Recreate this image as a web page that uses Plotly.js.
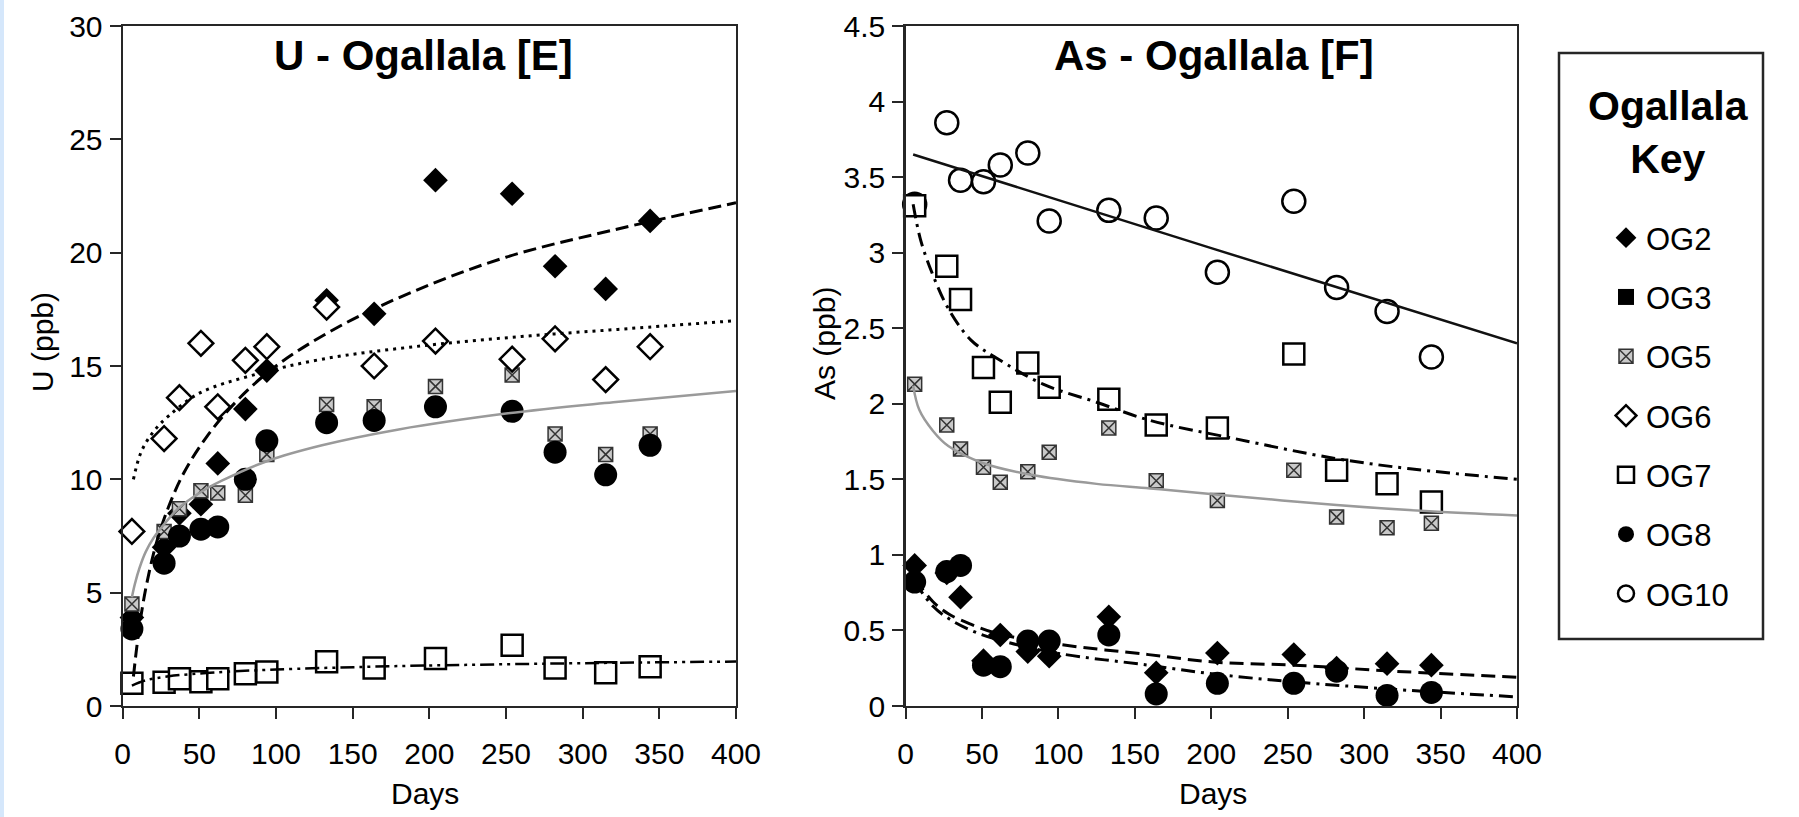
<!DOCTYPE html>
<html>
<head>
<meta charset="utf-8">
<script src="https://cdn.plot.ly/plotly-3.0.1.min.js"></script>
<style>
  html, body { margin: 0; padding: 0; background: #ffffff; }
  #chart { width: 1799px; height: 817px; }
  #strip { position: absolute; left: 0; top: 0; width: 4px; height: 817px; background: #d5e7fb; z-index: 10; }
</style>
</head>
<body>
<div id="strip"></div>
<div id="chart"></div>
<script>
// ---------------- DATA ----------------
// Panel E : U (ppb) vs Days
const daysU = [6, 27, 37, 51, 62, 80, 94, 133, 164, 204, 254, 282, 315, 344];
const u_OG2 = [3.9, 7.0, 8.5, 8.9, 10.7, 13.1, 14.8, 17.9, 17.3, 23.2, 22.6, 19.4, 18.4, 21.4];
const u_OG3 = [null, null, null, null, null, null, null, null, null, null, null, null, null, null]; // key only, no points drawn
const u_OG5 = [4.5, 7.7, 8.7, 9.5, 9.4, 9.3, 11.1, 13.3, 13.2, 14.1, 14.6, 12.0, 11.1, 12.0];
const u_OG6 = [7.7, 11.8, 13.6, 16.0, 13.2, 15.25, 15.85, 17.6, 15.0, 16.1, 15.3, 16.2, 14.4, 15.85];
const u_OG7 = [1.0, 1.05, 1.2, 1.07, 1.2, 1.42, 1.5, 1.95, 1.68, 2.1, 2.68, 1.68, 1.47, 1.73];
const u_OG8 = [3.4, 6.3, 7.5, 7.8, 7.9, 10.0, 11.7, 12.5, 12.6, 13.2, 13.0, 11.2, 10.2, 11.5];

// trend lines, panel E
const fitU_OG2_days = [7, 9, 12, 16, 22, 30, 40, 55, 75, 100, 140, 190, 250, 320, 400];
const fitU_OG2_vals = [1.3, 2.5, 4.0, 5.5, 7.2, 8.8, 10.3, 11.9, 13.5, 15.0, 16.7, 18.3, 19.8, 21.0, 22.2];
const fitU_OG6_days = [7, 12, 20, 30, 50, 85, 130, 190, 260, 330, 400];
const fitU_OG6_vals = [10.0, 11.2, 12.1, 12.8, 13.8, 14.6, 15.3, 15.85, 16.3, 16.65, 17.0];
const fitU_OG5_days = [6, 8, 11, 15, 20, 28, 36, 50, 65, 94, 130, 180, 250, 320, 400];
const fitU_OG5_vals = [4.8, 5.4, 6.1, 6.8, 7.4, 8.1, 8.7, 9.4, 9.95, 10.8, 11.5, 12.2, 12.9, 13.4, 13.9];
const fitU_OG7_days = [6, 15, 30, 60, 100, 160, 220, 300, 400];
const fitU_OG7_vals = [0.9, 1.13, 1.31, 1.48, 1.61, 1.73, 1.81, 1.89, 1.96];

// Panel F : As (ppb) vs Days
const daysAs = [6, 27, 36, 51, 62, 80, 94, 133, 164, 204, 254, 282, 315, 344];
const as_OG2  = [0.93, 0.88, 0.72, 0.30, 0.47, 0.36, 0.33, 0.59, 0.22, 0.35, 0.34, 0.25, 0.28, 0.27];
const as_OG5  = [2.13, 1.86, 1.70, 1.58, 1.48, 1.55, 1.68, 1.84, 1.49, 1.36, 1.56, 1.25, 1.18, 1.21];
const as_OG7  = [3.31, 2.91, 2.69, 2.24, 2.01, 2.27, 2.11, 2.03, 1.86, 1.84, 2.33, 1.56, 1.47, 1.35];
const as_OG8  = [0.82, 0.89, 0.93, 0.27, 0.26, 0.43, 0.43, 0.47, 0.08, 0.15, 0.15, 0.23, 0.07, 0.09];
const as_OG10 = [3.32, 3.86, 3.48, 3.47, 3.58, 3.66, 3.21, 3.28, 3.23, 2.87, 3.34, 2.77, 2.61, 2.31];

// trend lines, panel F
const fitAs_OG10_days = [5, 200, 400];
const fitAs_OG10_vals = [3.65, 3.03, 2.40];
const fitAs_OG7_days = [5, 10, 18, 28, 43, 60, 90, 125, 160, 215, 280, 330, 400];
const fitAs_OG7_vals = [3.32, 3.08, 2.85, 2.63, 2.42, 2.30, 2.13, 2.01, 1.89, 1.77, 1.64, 1.57, 1.50];
const fitAs_OG5_days = [5, 9, 18, 28, 50, 82, 125, 160, 203, 282, 340, 400];
const fitAs_OG5_vals = [2.12, 1.96, 1.82, 1.72, 1.61, 1.53, 1.47, 1.44, 1.40, 1.33, 1.29, 1.26];
const fitAs_OG2_days = [6, 18, 28, 43, 60, 99, 159, 203, 254, 320, 400];
const fitAs_OG2_vals = [0.84, 0.69, 0.61, 0.54, 0.48, 0.41, 0.34, 0.29, 0.27, 0.23, 0.19];
const fitAs_OG8_days = [6, 18, 28, 43, 60, 99, 159, 203, 254, 320, 400];
const fitAs_OG8_vals = [0.82, 0.66, 0.58, 0.50, 0.44, 0.35, 0.27, 0.21, 0.16, 0.11, 0.06];

// text
const titleE = 'U - Ogallala [E]';
const titleF = 'As - Ogallala [F]';
const yTitleE = 'U (ppb)';
const yTitleF = 'As (ppb)';
const xTitle = 'Days';
const keyTitle = 'Ogallala<br>Key';

// ---------------- STYLE ----------------
const W = 1799, H = 817;
const px = v => v / W;
const py = v => 1 - v / H;
const FONT = 'Liberation Sans, Arial, Helvetica, sans-serif';
const INK = '#000000';
const AX = '#262626';

const mk = {
  OG2:  {symbol: 'diamond', size: 19, color: INK, line: {width: 0}},
  OG3:  {symbol: 'square', size: 17, color: INK, line: {width: 0}},
  OG5:  {symbol: 'square-x', size: 14, color: '#c9c9c9', line: {width: 1.5, color: '#333'}},
  OG6:  {symbol: 'diamond', size: 19, color: '#ffffff', line: {width: 2.5, color: INK}},
  OG7:  {symbol: 'square', size: 21, color: '#ffffff', line: {width: 2.5, color: INK}},
  OG8:  {symbol: 'circle', size: 23, color: INK, line: {width: 0}},
  OG10: {symbol: 'circle', size: 23, color: '#ffffff', line: {width: 2.5, color: INK}}
};

function pts(name, x, y, xa, ya, legend) {
  return {type: 'scatter', mode: 'markers', name: name, x: x, y: y, xaxis: xa, yaxis: ya,
          marker: mk[name], cliponaxis: false, showlegend: legend, legendgroup: name, hoverinfo: 'skip'};
}
function fit(x, y, xa, ya, line) {
  return {type: 'scatter', mode: 'lines', x: x, y: y, xaxis: xa, yaxis: ya,
          line: Object.assign({shape: 'spline', smoothing: 1}, line), showlegend: false, hoverinfo: 'skip'};
}

const data = [
  pts('OG2', daysU, u_OG2, 'x', 'y', true),
  pts('OG3', daysU, u_OG3, 'x', 'y', true),
  pts('OG5', daysU, u_OG5, 'x', 'y', true),
  pts('OG6', daysU, u_OG6, 'x', 'y', true),
  pts('OG7', daysU, u_OG7, 'x', 'y', true),
  pts('OG8', daysU, u_OG8, 'x', 'y', true),
  pts('OG10', daysAs, as_OG10, 'x2', 'y2', true),
  pts('OG7', daysAs, as_OG7, 'x2', 'y2', false),
  pts('OG5', daysAs, as_OG5, 'x2', 'y2', false),
  pts('OG2', daysAs, as_OG2, 'x2', 'y2', false),
  pts('OG8', daysAs, as_OG8, 'x2', 'y2', false),
  // trend lines (drawn over markers)
  fit(fitU_OG2_days, fitU_OG2_vals, 'x', 'y', {color: INK, width: 3, dash: '13px,6px'}),
  fit(fitU_OG6_days, fitU_OG6_vals, 'x', 'y', {color: INK, width: 3, dash: '3px,5px'}),
  fit(fitU_OG5_days, fitU_OG5_vals, 'x', 'y', {color: '#9a9a9a', width: 2.5}),
  fit(fitU_OG7_days, fitU_OG7_vals, 'x', 'y', {color: INK, width: 2.5, dash: '14px,5px,3px,5px,3px,5px'}),
  fit(fitAs_OG10_days, fitAs_OG10_vals, 'x2', 'y2', {color: '#111', width: 2.5}),
  fit(fitAs_OG7_days, fitAs_OG7_vals, 'x2', 'y2', {color: INK, width: 3, dash: '14px,6px,3px,6px'}),
  fit(fitAs_OG5_days, fitAs_OG5_vals, 'x2', 'y2', {color: '#9a9a9a', width: 2.5}),
  fit(fitAs_OG2_days, fitAs_OG2_vals, 'x2', 'y2', {color: INK, width: 3, dash: '14px,7px'}),
  fit(fitAs_OG8_days, fitAs_OG8_vals, 'x2', 'y2', {color: INK, width: 3, dash: '14px,6px,3px,6px'})
];

const tickFont = {family: FONT, size: 30, color: INK};
const axBase = {
  showline: true, mirror: true, linecolor: AX, linewidth: 2.2,
  ticks: 'outside', ticklen: 11, tickwidth: 2, tickcolor: AX,
  showgrid: false, zeroline: false, tickfont: tickFont, fixedrange: true
};
const yDom = [py(706), py(26)];

const layout = {
  width: W, height: H,
  margin: {l: 0, r: 0, t: 0, b: 0},
  paper_bgcolor: '#ffffff', plot_bgcolor: '#ffffff',
  font: {family: FONT, color: INK},
  showlegend: true,
  legend: {
    x: px(1606), xanchor: 'left', y: py(211), yanchor: 'top',
    font: {family: FONT, size: 31, color: INK},
    bgcolor: 'rgba(0,0,0,0)', borderwidth: 0,
    traceorder: 'grouped', tracegroupgap: 16, itemclick: false, itemdoubleclick: false
  },
  xaxis: Object.assign({}, axBase, {domain: [px(122.7), px(736)], range: [0, 400], tick0: 0, dtick: 50, anchor: 'y', ticklabelstandoff: 9}),
  yaxis: Object.assign({}, axBase, {domain: yDom, range: [0, 30], tick0: 0, dtick: 5, anchor: 'x', ticklabelstandoff: 1}),
  xaxis2: Object.assign({}, axBase, {domain: [px(905.5), px(1517)], range: [0, 400], tick0: 0, dtick: 50, anchor: 'y2', ticklabelstandoff: 9}),
  yaxis2: Object.assign({}, axBase, {domain: yDom, range: [0, 4.5], tick0: 0, dtick: 0.5, anchor: 'x2', ticklabelstandoff: 1}),
  shapes: [
    {type: 'rect', xref: 'paper', yref: 'paper', x0: px(1559), x1: px(1763), y0: py(639), y1: py(53),
     line: {color: AX, width: 2.5}, fillcolor: 'rgba(0,0,0,0)'}
  ],
  annotations: [
    {text: '<b>' + titleE + '</b>', xref: 'paper', yref: 'paper', x: px(423), y: py(56), xanchor: 'center', yanchor: 'middle', showarrow: false, font: {family: FONT, size: 42, color: INK}},
    {text: '<b>' + titleF + '</b>', xref: 'paper', yref: 'paper', x: px(1214), y: py(56), xanchor: 'center', yanchor: 'middle', showarrow: false, font: {family: FONT, size: 42, color: INK}},
    {text: yTitleE, xref: 'paper', yref: 'paper', x: px(42), y: py(342), xanchor: 'center', yanchor: 'middle', textangle: -90, showarrow: false, font: {family: FONT, size: 30, color: INK}},
    {text: yTitleF, xref: 'paper', yref: 'paper', x: px(824), y: py(344), xanchor: 'center', yanchor: 'middle', textangle: -90, showarrow: false, font: {family: FONT, size: 30, color: INK}},
    {text: xTitle, xref: 'paper', yref: 'paper', x: px(425), y: py(793), xanchor: 'center', yanchor: 'middle', showarrow: false, font: {family: FONT, size: 30, color: INK}},
    {text: xTitle, xref: 'paper', yref: 'paper', x: px(1213), y: py(793), xanchor: 'center', yanchor: 'middle', showarrow: false, font: {family: FONT, size: 30, color: INK}},
    {text: '<b>' + keyTitle + '</b>', xref: 'paper', yref: 'paper', x: px(1668), y: py(132), xanchor: 'center', yanchor: 'middle', showarrow: false, font: {family: FONT, size: 41, color: INK}}
  ]
};

Plotly.newPlot('chart', data, layout, {displayModeBar: false, staticPlot: true});
</script>
</body>
</html>
